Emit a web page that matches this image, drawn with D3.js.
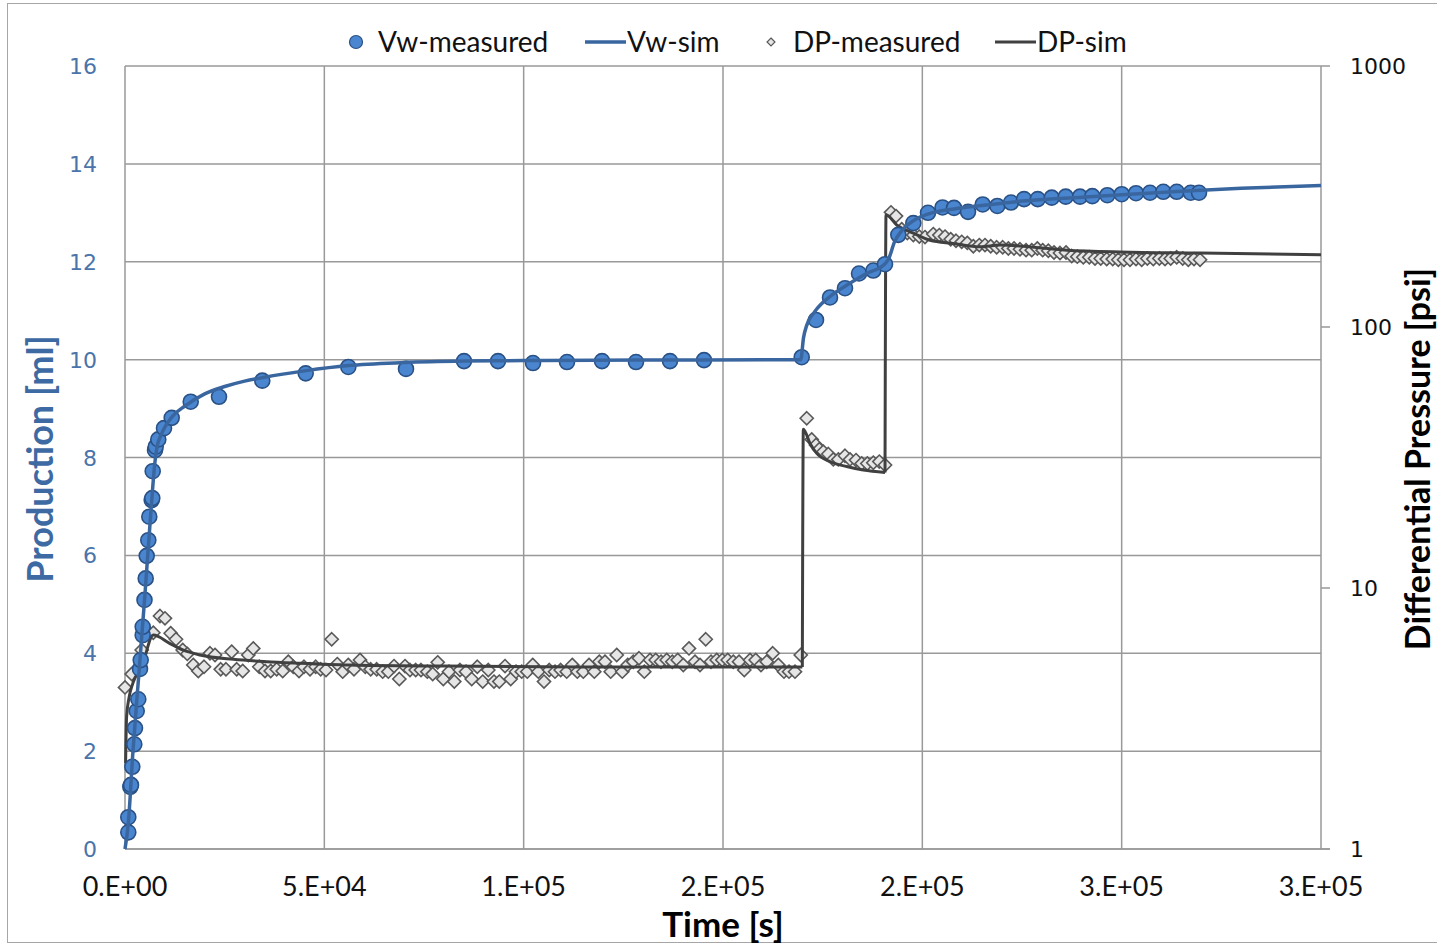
<!DOCTYPE html>
<html>
<head>
<meta charset="utf-8">
<script src="https://cdn.jsdelivr.net/npm/d3@7"></script>
<style>
  body { margin: 0; background: #fff; }
  svg { display: block; }
</style>
</head>
<body>
<svg id="chart"></svg>
<script>
// ---- data ----
const timeTicks = [0, 50000, 100000, 150000, 200000, 250000, 300000];
const timeTickLabels = ["0.E+00", "5.E+04", "1.E+05", "2.E+05", "2.E+05", "3.E+05", "3.E+05"];
const prodTicks = [0, 2, 4, 6, 8, 10, 12, 14, 16];
const dpTicks = [1, 10, 100, 1000];

// Vw-measured [s, ml]
const vwTime = [828, 828, 1330, 1505, 1831, 2333, 2508, 2935, 3336, 3763, 3938, 4440, 4440, 4891, 5192, 5443, 5845, 6095, 6697, 6848, 6948, 7525, 7701, 8353, 9783, 11714, 16480, 23579, 34440, 45327, 56013, 70486, 85035, 93563, 102343, 110871, 119650, 128180, 136708, 145237,
  169744, 173330, 176842, 180605, 184117, 187704, 190639, 193975, 197738, 201425, 205062, 207948, 211459, 215145, 218808, 222245, 225506, 228943, 232455, 235966, 239553, 242638, 246401, 250013, 253600, 257111, 260447, 263808, 267320, 269401];
const vwValue = [0.34, 0.65, 1.27, 1.31, 1.68, 2.14, 2.47, 2.82, 3.06, 3.68, 3.86, 4.37, 4.54, 5.09, 5.53, 5.99, 6.31, 6.79, 7.13, 7.17, 7.72, 8.15, 8.22, 8.37, 8.60, 8.81, 9.14, 9.24, 9.57, 9.72, 9.85, 9.81, 9.97, 9.97, 9.93, 9.95, 9.97, 9.95, 9.97, 9.99,
  10.05, 10.81, 11.27, 11.46, 11.76, 11.82, 11.95, 12.55, 12.79, 13.00, 13.11, 13.10, 13.02, 13.17, 13.14, 13.21, 13.28, 13.28, 13.31, 13.33, 13.33, 13.34, 13.36, 13.38, 13.40, 13.41, 13.43, 13.43, 13.41, 13.41];

// Vw-sim [s, ml]
const vwSimTime = [0, 800, 2000, 3500, 5000, 6500, 7500, 8000, 9000, 10000, 12000, 15000, 20000, 25000, 30000, 35000, 45000, 56000, 70000, 85000, 100000, 130000, 169500,
  170200, 171000, 173000, 177000, 181000, 186000, 190500, 191500, 193000, 195000, 198000, 202000, 208000, 215000, 225000, 240000, 250000, 265000, 280000, 300000];
const vwSimValue = [0, 0.5, 2.0, 3.6, 5.2, 6.9, 7.9, 8.2, 8.45, 8.62, 8.85, 9.05, 9.3, 9.45, 9.56, 9.64, 9.77, 9.88, 9.94, 9.97, 9.98, 9.99, 10.0,
  10.45, 10.7, 10.98, 11.3, 11.52, 11.76, 11.95, 12.05, 12.4, 12.65, 12.85, 12.99, 13.08, 13.15, 13.24, 13.32, 13.37, 13.44, 13.5, 13.56];

// DP-measured [s, psi]
const dpTime = [0, 1680, 4190, 6100, 7100, 8780, 10030, 11460, 12790, 14470, 15630, 17130, 18390, 19820, 21320, 22580, 24010, 25330, 26760, 28020, 29520, 30930, 32180, 33690, 35120, 36550, 38050, 39560, 40960, 42220, 43650, 44900, 46410, 47830, 49090,
  50420, 51850, 53250, 54610, 56010, 57440, 58950, 60280, 61630, 63140, 64640, 66050, 67480, 68810, 70240, 71490, 72920, 74250, 75830, 77180, 78440, 79840, 81270, 82600, 84030, 85540, 86970, 88370, 89730, 91130, 92560, 93890, 95320, 96750, 98080, 99510,
  100910, 102270, 103670, 105100, 106430, 107860, 109290, 110800, 112200, 113460, 114960, 116390, 117720, 118970, 120400, 121830, 123340, 124740, 126100, 127500, 128930, 130260, 131690, 133120, 134450, 135880, 137280, 138640, 140040, 141470, 142980, 144230, 145670, 146990, 148420, 149830,
  151180, 152580, 154020, 155340, 156780, 158200, 159530, 160970, 162470, 163880, 165300, 166560, 168060, 169500,
  171000, 172250, 173330, 174160, 175160, 176420, 177670, 178930, 180600, 181860, 183370, 184790, 186200, 187700, 189210, 190640,
  192140, 193400, 194830, 196230, 197740, 199240, 200670, 202750, 204260, 205690, 207120, 208450, 209880, 211280, 212790, 214290, 215720, 217150, 218650, 220160, 221570, 223000, 224500, 226010, 227440, 228840, 230190, 231600, 233030, 234530, 236040, 237470, 238870, 240380, 241880, 243310, 244750, 246250, 247760, 249160, 250590, 252090, 253600, 255030, 256440, 257940, 259450, 260870, 262300, 263810, 265320, 266720, 268150, 269660];
const dpValue = [4.16, 4.68, 5.79, 6.71, 6.74, 7.81, 7.65, 6.71, 6.36, 5.79, 5.59, 5.07, 4.81, 4.99, 5.62, 5.54, 4.88, 4.88, 5.70, 4.88, 4.81, 5.54, 5.87, 4.99, 4.81, 4.81, 4.88, 4.81, 5.22, 4.99, 4.81, 4.99, 4.88, 4.99, 4.88,
  4.85, 6.36, 5.11, 4.78, 5.07, 4.88, 5.30, 4.99, 4.88, 4.88, 4.78, 4.78, 5.02, 4.48, 5.02, 4.85, 4.85, 4.85, 4.78, 4.68, 5.19, 4.48, 4.78, 4.38, 4.85, 4.78, 4.48, 4.99, 4.38, 4.85, 4.38, 4.38, 5.02, 4.48, 4.78, 4.78,
  4.78, 5.07, 4.78, 4.38, 4.85, 4.78, 4.85, 4.78, 5.07, 4.78, 4.78, 5.07, 4.78, 5.22, 5.22, 4.78, 5.54, 4.78, 5.07, 5.22, 5.38, 4.78, 5.30, 5.30, 5.22, 5.30, 5.22, 5.30, 5.07, 5.87, 5.22, 5.07, 6.36, 5.22, 5.30, 5.30,
  5.30, 5.22, 5.22, 4.85, 5.30, 5.30, 5.07, 5.22, 5.62, 5.07, 4.78, 4.78, 4.78, 5.54,
  44.7, 37.1, 35.3, 34.0, 33.3, 32.6, 31.1, 31.1, 32.1, 31.1, 30.9, 30.0, 30.0, 30.2, 30.5, 29.6,
  275, 266, 237, 229, 225, 222, 221, 227, 225, 222, 217, 214, 212, 210, 204, 206, 206, 204, 202, 202, 200, 200, 198.5, 197, 197, 200, 197, 196, 193, 192, 193, 187, 186, 185, 185, 183, 183, 182, 182, 181, 181, 181, 182, 181, 183, 182, 183, 182, 183, 185, 183, 181, 182, 181];

// DP-sim [s, psi], three stages
const dpSimTimeA = [150, 400, 1000, 2000, 4200, 7100, 11200, 14500, 18800, 27200, 35500, 43900, 56400, 80000, 120000, 169900];
const dpSimValueA = [2.13, 3.21, 3.79, 4.33, 4.99, 6.60, 6.14, 5.79, 5.54, 5.33, 5.22, 5.15, 5.07, 5.02, 4.98, 4.98];
const dpSimTimeB = [169900, 170150, 171820, 173510, 176840, 181030, 185190, 190640];
const dpSimValueB = [4.98, 40.6, 35.8, 32.8, 30.5, 29.2, 28.3, 27.7];
const dpSimTimeC = [190640, 190890, 193580, 197740, 201930, 207770, 214470, 219490, 236210, 249590, 269650, 300000];
const dpSimValueC = [27.7, 269, 246, 229, 215, 209, 203, 206, 197, 194, 192, 189];

// ---- drawing ----
const W = 1437, H = 945;
const m = { left: 125, right: 1321, top: 66, bottom: 849 };

const svg = d3.select("#chart").attr("width", W).attr("height", H);

const x = d3.scaleLinear().domain([0, 300000]).range([m.left, m.right]);
const yL = d3.scaleLinear().domain([0, 16]).range([m.bottom, m.top]);
const yR = d3.scaleLog().domain([1, 1000]).range([m.bottom, m.top]);

const gridColor = "#999999";
const blueText = "#3e6aa3";

// outer frame
svg.append("rect")
  .attr("x", 7.5).attr("y", 3.5).attr("width", W).attr("height", H - 6)
  .attr("fill", "none").attr("stroke", "#a6a6a6").attr("stroke-width", 1);

// grid
const grid = svg.append("g");
grid.selectAll("line.h").data(prodTicks).join("line")
  .attr("x1", m.left).attr("x2", m.right)
  .attr("y1", d => yL(d)).attr("y2", d => yL(d))
  .attr("stroke", gridColor).attr("stroke-width", 1.5);
grid.selectAll("line.v").data(timeTicks).join("line")
  .attr("x1", d => x(d)).attr("x2", d => x(d))
  .attr("y1", m.top).attr("y2", m.bottom)
  .attr("stroke", gridColor).attr("stroke-width", 1.5);

// bottom axis line extends to right axis tick
svg.append("line")
  .attr("x1", m.left).attr("x2", m.right + 9)
  .attr("y1", m.bottom).attr("y2", m.bottom)
  .attr("stroke", gridColor).attr("stroke-width", 1.5);

// right axis ticks
svg.append("g").selectAll("line").data(dpTicks).join("line")
  .attr("x1", m.right).attr("x2", m.right + 9)
  .attr("y1", d => yR(d)).attr("y2", d => yR(d))
  .attr("stroke", gridColor).attr("stroke-width", 1.5);

// tick labels
svg.append("g").selectAll("text").data(prodTicks).join("text")
  .attr("x", 97).attr("y", d => yL(d) + 8)
  .attr("text-anchor", "end")
  .attr("font-family", "DejaVu Sans, Verdana, sans-serif")
  .attr("font-size", 22).attr("fill", "#4a74aa")
  .text(d => d);

svg.append("g").selectAll("text").data(dpTicks).join("text")
  .attr("x", 1350).attr("y", d => yR(d) + 8)
  .attr("font-family", "DejaVu Sans, Verdana, sans-serif")
  .attr("font-size", 22).attr("fill", "#111")
  .text(d => d);

svg.append("g").selectAll("text").data(timeTicks).join("text")
  .attr("x", d => x(d)).attr("y", 896)
  .attr("text-anchor", "middle")
  .attr("font-family", "Lato, sans-serif")
  .attr("font-size", 27).attr("fill", "#111")
  .text((d, i) => timeTickLabels[i]);

// axis titles
svg.append("text")
  .attr("x", 723).attr("y", 937)
  .attr("text-anchor", "middle")
  .attr("font-family", "Lato, sans-serif").attr("font-weight", "bold")
  .attr("font-size", 35).attr("fill", "#000")
  .text("Time [s]");

svg.append("text")
  .attr("transform", "translate(53,459) rotate(-90)")
  .attr("text-anchor", "middle")
  .attr("font-family", "Lato, sans-serif").attr("font-weight", "bold")
  .attr("font-size", 36).attr("fill", blueText)
  .text("Production [ml]");

svg.append("text")
  .attr("transform", "translate(1430,459) rotate(-90)")
  .attr("text-anchor", "middle")
  .attr("font-family", "Lato, sans-serif").attr("font-weight", "bold")
  .attr("font-size", 34).attr("fill", "#000")
  .text("Differential Pressure [psi]");

// series
const diamond = d3.symbol().type(d3.symbolDiamond2).size(110);

const dpPts = dpTime.map((t, i) => [t, dpValue[i]]);
svg.append("g").selectAll("path").data(dpPts).join("path")
  .attr("transform", d => `translate(${x(d[0])},${yR(d[1])})`)
  .attr("d", diamond)
  .attr("fill", "#e6e6e6").attr("stroke", "#595959").attr("stroke-width", 1.6);

const lineR = d3.line().x(d => x(d[0])).y(d => yR(d[1])).curve(d3.curveMonotoneX);
[[dpSimTimeA, dpSimValueA], [dpSimTimeB, dpSimValueB], [dpSimTimeC, dpSimValueC]].forEach(([ts, vs]) => {
  svg.append("path")
    .datum(ts.map((t, i) => [t, vs[i]]))
    .attr("d", lineR)
    .attr("fill", "none").attr("stroke", "#404040").attr("stroke-width", 3);
});

const vwPts = vwTime.map((t, i) => [t, vwValue[i]]);
svg.append("g").selectAll("circle").data(vwPts).join("circle")
  .attr("cx", d => x(d[0])).attr("cy", d => yL(d[1])).attr("r", 7.5)
  .attr("fill", "#4a86d0").attr("stroke", "#2a5185").attr("stroke-width", 1.6);

const lineL = d3.line().x(d => x(d[0])).y(d => yL(d[1])).curve(d3.curveMonotoneX);
svg.append("path")
  .datum(vwSimTime.map((t, i) => [t, vwSimValue[i]]))
  .attr("d", lineL)
  .attr("fill", "none").attr("stroke", "#3a66a0").attr("stroke-width", 3.5);

// legend
const leg = svg.append("g").attr("font-family", "Lato, sans-serif").attr("font-size", 28).attr("fill", "#111");
leg.append("circle").attr("cx", 356).attr("cy", 42).attr("r", 6.5)
  .attr("fill", "#4a86d0").attr("stroke", "#2a5185").attr("stroke-width", 1.2);
leg.append("text").attr("x", 378).attr("y", 52).text("Vw-measured");
leg.append("line").attr("x1", 585).attr("x2", 626).attr("y1", 42).attr("y2", 42)
  .attr("stroke", "#3a66a0").attr("stroke-width", 3.5);
leg.append("text").attr("x", 627).attr("y", 52).text("Vw-sim");
leg.append("path").attr("transform", "translate(771,42)")
  .attr("d", d3.symbol().type(d3.symbolDiamond2).size(40))
  .attr("fill", "#e6e6e6").attr("stroke", "#595959").attr("stroke-width", 1.2);
leg.append("text").attr("x", 793).attr("y", 52).text("DP-measured");
leg.append("line").attr("x1", 995).attr("x2", 1036).attr("y1", 42).attr("y2", 42)
  .attr("stroke", "#404040").attr("stroke-width", 3);
leg.append("text").attr("x", 1037).attr("y", 52).text("DP-sim");
</script>
</body>
</html>
